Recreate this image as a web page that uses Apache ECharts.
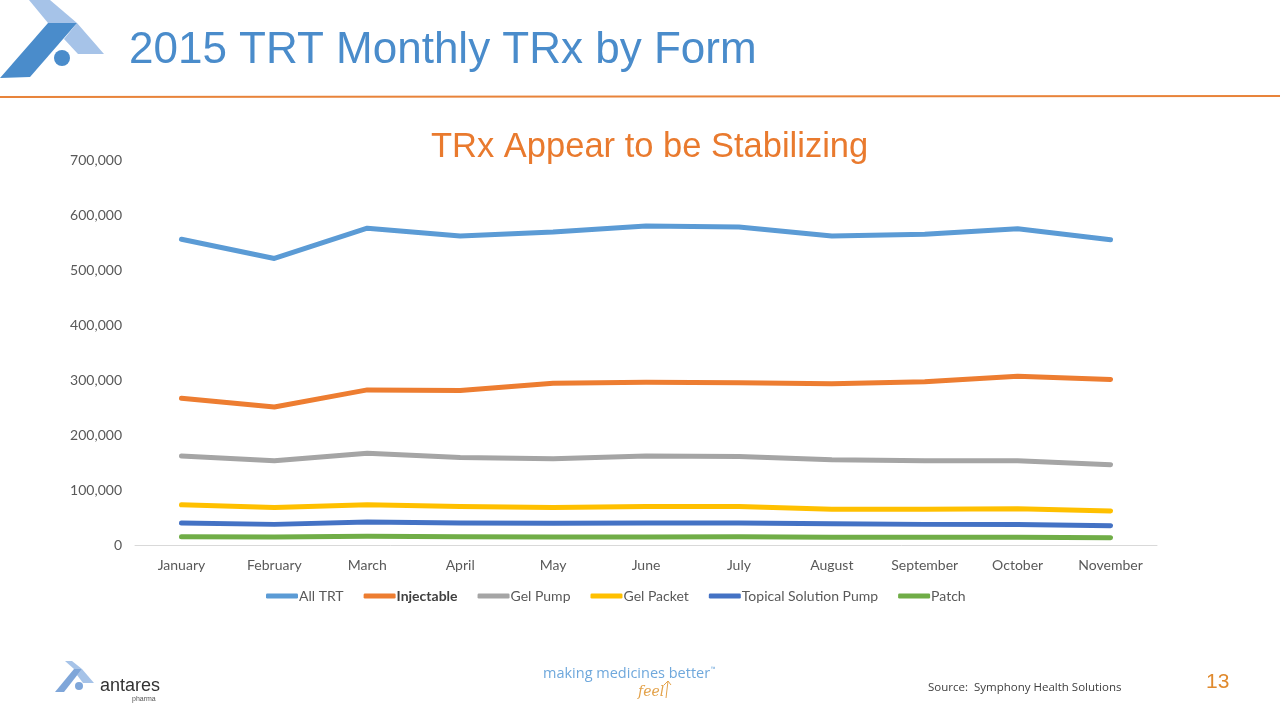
<!DOCTYPE html>
<html><head><meta charset="utf-8">
<script src="https://cdn.jsdelivr.net/npm/echarts@6/dist/echarts.min.js"></script>
<style>html,body{margin:0;padding:0;background:#fff}#c{width:1280px;height:720px}</style>
</head><body><div id="c"></div>
<script>
const months = ['January','February','March','April','May','June','July','August','September','October','November'];
const allTRT = [556000,521000,576000,562000,569000,580000,578000,562000,565000,575000,555000];
const injectable = [267000,251000,282000,281000,294000,296000,295000,293000,297000,307000,301000];
const gelPump = [162000,153000,167000,159000,157000,162000,161000,155000,153000,153000,146000];
const gelPacket = [73000,68000,73000,70000,68000,70000,70000,65000,65000,66000,62000];
const topical = [40000,37500,42000,40000,39500,40000,40000,38500,37500,37500,35000];
const patch = [15000,14500,16000,15000,14500,14500,15000,14000,14000,14000,13000];
const yTicks = {min:0, max:700000, interval:100000};

const chart = echarts.init(document.getElementById('c'));
const lbl = {fontFamily:'Lato', fontSize:14, color:'#595959'};
function s(name, data, color){
  return {name, type:'line', data, symbol:'none', smooth:false,
    lineStyle:{width:5, color, cap:'round', join:'round'}, itemStyle:{color}};
}
chart.setOption({
  animation:false,
  title:[
    {text:'2015 TRT Monthly TRx by Form', left:124, top:24,
     textStyle:{fontFamily:'Liberation Sans', fontSize:44, fontWeight:'normal', color:'#4A8CCB'}},
    {text:'TRx Appear to be Stabilizing', left:426, top:125,
     textStyle:{fontFamily:'Liberation Sans', fontSize:34.5, fontWeight:'normal', color:'#E97A2E'}}
  ],
  grid:{left:135, right:123, top:160, bottom:175, containLabel:false},
  legend:{left:261, top:584, itemWidth:32, itemHeight:5, itemGap:20, icon:'roundRect',
    textStyle:{fontFamily:'Lato', fontSize:14, color:'#595959', padding:[0,0,0,-4]},
    data:[{name:'All TRT'},{name:'Injectable', textStyle:{fontWeight:'bold', color:'#404040'}},
      {name:'Gel Pump'},{name:'Gel Packet'},{name:'Topical Solution Pump'},{name:'Patch'}]},
  xAxis:{type:'category', data:months, boundaryGap:true,
    axisLine:{lineStyle:{color:'#D9D9D9', width:1}}, axisTick:{show:false},
    axisLabel:Object.assign({margin:13}, lbl)},
  yAxis:{type:'value', min:yTicks.min, max:yTicks.max, interval:yTicks.interval,
    axisLine:{show:false}, axisTick:{show:false}, splitLine:{show:false},
    axisLabel:Object.assign({margin:13, formatter:v=>v.toLocaleString('en-US')}, lbl)},
  series:[
    s('All TRT', allTRT, '#5B9BD5'),
    s('Injectable', injectable, '#ED7D31'),
    s('Gel Pump', gelPump, '#A5A5A5'),
    s('Gel Packet', gelPacket, '#FFC000'),
    s('Topical Solution Pump', topical, '#4472C4'),
    s('Patch', patch, '#70AD47')
  ],
  graphic:[
    {type:'line', shape:{x1:0,y1:97,x2:1280,y2:96}, style:{stroke:'#E8833A', lineWidth:2}},
    {type:'polygon', shape:{points:[[29,0],[50,0],[77,23],[48,23]]}, style:{fill:'#A6C3E8'}},
    {type:'polygon', shape:{points:[[77,23],[104,54],[78,54],[64,39]]}, style:{fill:'#A6C3E8'}},
    {type:'polygon', shape:{points:[[48,23],[77,23],[30,77],[0,78]]}, style:{fill:'#4A8CCB'}},
    {type:'circle', shape:{cx:62,cy:58,r:8}, style:{fill:'#4A8CCB'}},
    {type:'polygon', shape:{points:[[65,661],[72,661],[82,669],[74,669]]}, style:{fill:'#A6C3E8'}},
    {type:'polygon', shape:{points:[[82,669],[94,683],[83,683],[77,675]]}, style:{fill:'#A6C3E8'}},
    {type:'polygon', shape:{points:[[74,669],[82,669],[64,692],[55,692]]}, style:{fill:'#7FA6D9'}},
    {type:'circle', shape:{cx:79,cy:686,r:4}, style:{fill:'#7FA6D9'}},
    {type:'text', style:{text:'antares', x:100, y:677, font:'18px "Liberation Sans"', fill:'#333333'}},
    {type:'text', style:{text:'pharma', x:132, y:696, font:'7px "Liberation Sans"', fill:'#555555'}},
    {type:'text', style:{text:'making medicines better', x:543, y:666, font:'14.5px "Open Sans"', fill:'#6FA8DC'}},
    {type:'text', style:{text:'™', x:711, y:666, font:'6px "Open Sans"', fill:'#6FA8DC'}},
    {type:'text', style:{text:'feel', x:638, y:685, font:'italic 14px "DejaVu Serif"', fill:'#E3A24A'}},
    {type:'line', shape:{x1:666,y1:698,x2:668,y2:681}, style:{stroke:'#E3A24A', lineWidth:1}},
    {type:'polyline', shape:{points:[[664,685],[668,681],[671,685]]}, style:{stroke:'#E3A24A', lineWidth:1, fill:null}},
    {type:'text', style:{text:'Source:  Symphony Health Solutions', x:928, y:682, font:'11.5px "Open Sans"', fill:'#404040'}},
    {type:'text', style:{text:'13', x:1206, y:672, font:'21px "Liberation Sans"', fill:'#E08A2E'}}
  ]
});
</script></body></html>
